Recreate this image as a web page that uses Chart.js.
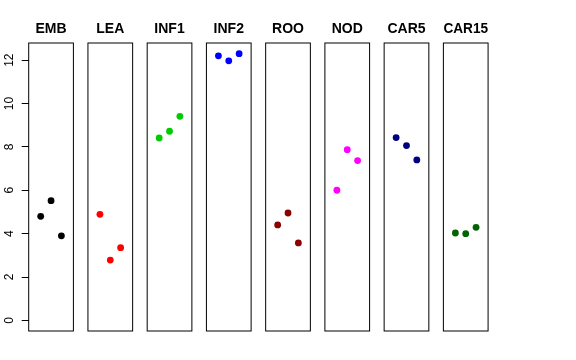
<!DOCTYPE html>
<html>
<head>
<meta charset="utf-8">
<script src="https://cdn.jsdelivr.net/npm/chart.js@4"></script>
<style>
  html, body { margin: 0; padding: 0; background: #fff; }
  #wrap { position: relative; width: 576px; height: 360px; overflow: hidden; background: #fff; }
  #wrap canvas { position: absolute; top: 0; }
</style>
</head>
<body>
<div id="wrap"></div>
<script>
// ---- data ----
const categories = ["EMB", "LEA", "INF1", "INF2", "ROO", "NOD", "CAR5", "CAR15"];
const colors = ["#000000", "#FF0000", "#00CD00", "#0000FF", "#8B0000", "#FF00FF", "#000080", "#006400"];
const replicateX = [1, 2, 3];
const valuesEMB   = [4.80, 5.52, 3.90];
const valuesLEA   = [4.89, 2.78, 3.35];
const valuesINF1  = [8.41, 8.72, 9.41];
const valuesINF2  = [12.20, 11.97, 12.30];
const valuesROO   = [4.40, 4.95, 3.57];
const valuesNOD   = [6.00, 7.87, 7.37];
const valuesCAR5  = [8.43, 8.06, 7.40];
const valuesCAR15 = [4.03, 4.00, 4.29];
const seriesValues = [valuesEMB, valuesLEA, valuesINF1, valuesINF2, valuesROO, valuesNOD, valuesCAR5, valuesCAR15];
const yTickValues = [0, 2, 4, 6, 8, 10, 12];
const yTickLabels = ["0", "2", "4", "6", "8", "10", "12"];

// ---- layout ----
const FONT = "'Liberation Sans', Arial, Helvetica, sans-serif";
const H = 360;
const panelTop = 43, panelBottom = 331;
const firstLeft = 28.7, pitch = 59.24, panelW = 44.7;
const yMin = -0.49, yMax = 12.79;
const xMin = -0.16, xMax = 4.16;

const boxPlugin = {
  id: 'panelBox',
  afterDraw(chart) {
    const a = chart.chartArea, ctx = chart.ctx;
    ctx.save();
    ctx.strokeStyle = '#000';
    ctx.lineWidth = 1;
    ctx.strokeRect(a.left, a.top, a.right - a.left, a.bottom - a.top);
    ctx.restore();
  }
};

const wrap = document.getElementById('wrap');
categories.forEach((cat, i) => {
  const pl = firstLeft + pitch * i;
  const pr = pl + panelW;
  const first = i === 0;
  const cLeft = first ? 0 : Math.floor(pl) - 6;
  const cRight = Math.ceil(pr) + 6;
  const cW = cRight - cLeft;
  const canvas = document.createElement('canvas');
  canvas.width = cW; canvas.height = H;
  canvas.style.left = cLeft + 'px';
  canvas.style.width = cW + 'px'; canvas.style.height = H + 'px';
  wrap.appendChild(canvas);

  const titlePadTop = 20.6;
  const titleFontSize = 14;
  const titleH = titleFontSize * 1.2;
  const titlePadBottom = panelTop - titlePadTop - titleH;

  const yScale = {
    type: 'linear',
    display: first,
    position: 'left',
    min: yMin, max: yMax,
    grid: {
      display: true, drawOnChartArea: false, drawTicks: true,
      tickLength: 7, color: '#000', lineWidth: 1
    },
    border: { display: false },
    ticks: {
      autoSkip: false,
      minRotation: 90, maxRotation: 90,
      crossAlign: 'center',
      padding: 5,
      color: '#000',
      font: { family: FONT, size: 12 },
      callback: (v) => { const idx = yTickValues.indexOf(v); return idx >= 0 ? yTickLabels[idx] : ''; }
    }
  };
  if (first) {
    yScale.afterBuildTicks = (scale) => { scale.ticks = yTickValues.map(v => ({ value: v })); };
    yScale.afterFit = (scale) => { scale.width = firstLeft; };
  }

  new Chart(canvas, {
    type: 'scatter',
    data: {
      datasets: [{
        data: seriesValues[i].map((v, k) => ({ x: replicateX[k], y: v })),
        backgroundColor: colors[i],
        borderColor: colors[i],
        pointRadius: 3.4,
        pointHoverRadius: 3.4,
        borderWidth: 0
      }]
    },
    options: {
      responsive: false,
      animation: false,
      events: [],
      layout: {
        padding: {
          left: first ? 0 : pl - cLeft,
          right: cRight - pr,
          top: 0,
          bottom: H - panelBottom
        }
      },
      plugins: {
        legend: { display: false },
        tooltip: { enabled: false },
        title: {
          display: true,
          text: cat,
          fullSize: false,
          color: '#000',
          font: { family: FONT, size: titleFontSize, weight: 'bold', lineHeight: 1.2 },
          padding: { top: titlePadTop, bottom: titlePadBottom }
        }
      },
      scales: {
        x: { type: 'linear', display: false, min: xMin, max: xMax },
        y: yScale
      }
    },
    plugins: [boxPlugin]
  });
});
</script>
</body>
</html>
